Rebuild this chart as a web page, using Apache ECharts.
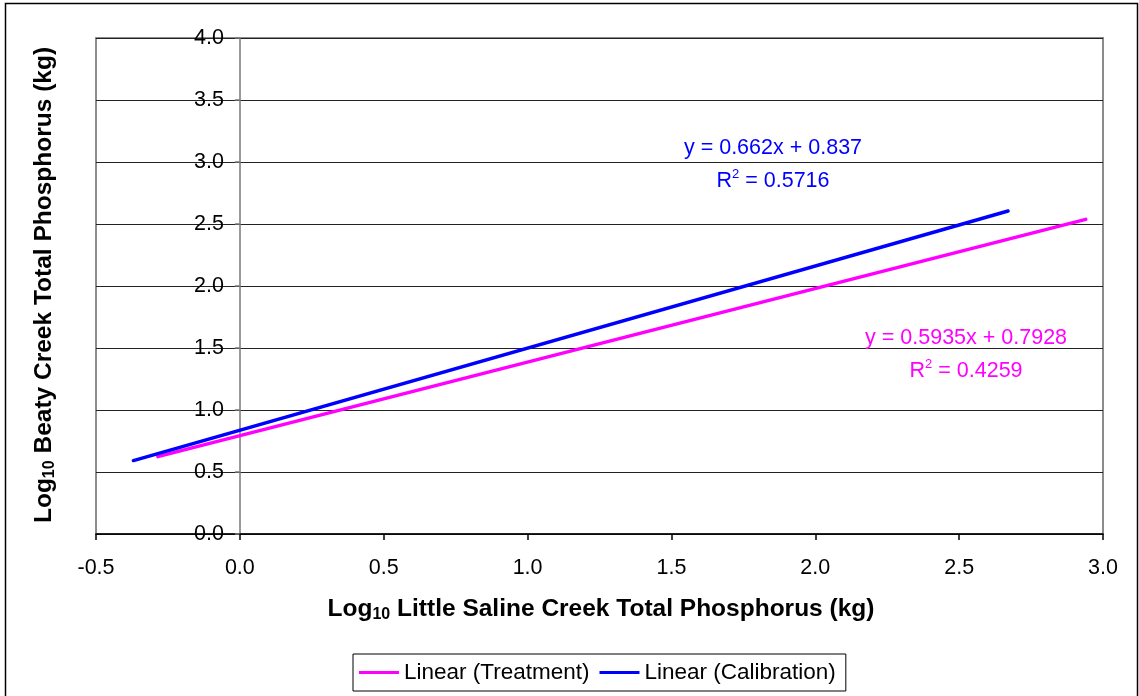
<!DOCTYPE html>
<html>
<head>
<meta charset="utf-8">
<script src="https://cdn.jsdelivr.net/npm/echarts@6/dist/echarts.min.js"></script>
<style>
  html, body { margin: 0; padding: 0; background: #fff; }
  #chart { width: 1139px; height: 696px; }
</style>
</head>
<body>
<div id="chart"></div>
<script>
// Regression lines: log10 Beaty Creek TP vs log10 Little Saline Creek TP
const seriesNames = ['Linear (Treatment)', 'Linear (Calibration)'];
const seriesColors = ['#FF00FF', '#0000FF'];
const slopes = [0.5935, 0.662];
const intercepts = [0.7928, 0.837];
const rSquared = ['0.4259', '0.5716'];
const xStart = [-0.285, -0.37];
const xEnd = [2.94, 2.67];

// Axis ticks
const xTicks = [-0.5, 0.0, 0.5, 1.0, 1.5, 2.0, 2.5, 3.0];
const yTicks = [0.0, 0.5, 1.0, 1.5, 2.0, 2.5, 3.0, 3.5, 4.0];

const FONT = '"Liberation Sans", Arial, sans-serif';
const TXT = 21.5;

function lineData(i) {
  return [xStart[i], xEnd[i]].map(x => [x, slopes[i] * x + intercepts[i]]);
}

const chart = echarts.init(document.getElementById('chart'), null, { renderer: 'canvas' });

const series = seriesNames.map((name, i) => ({
  name: name,
  type: 'line',
  data: lineData(i),
  showSymbol: false,
  symbol: 'none',
  lineStyle: { color: seriesColors[i], width: 3.5, cap: 'round' },
  itemStyle: { color: seriesColors[i] },
  animation: false,
  z: 3 + i
}));

// Equation label anchors in data space (x, y of each text line centre)
const eqAnchors = [
  [[2.524, 1.581], [2.524, 1.315]],
  [[1.853, 3.113], [1.853, 2.847]]
];

const option = {
  animation: false,
  textStyle: { fontFamily: FONT },
  grid: {
    left: 96, top: 38, right: 36, bottom: 162,
    show: true, borderColor: '#8c8c8c', borderWidth: 2, backgroundColor: '#fff'
  },
  xAxis: {
    type: 'value',
    min: xTicks[0], max: xTicks[xTicks.length - 1], interval: 0.5,
    axisLine: { onZero: false, lineStyle: { color: '#000', width: 1.5 } },
    axisTick: { show: true, length: 6, lineStyle: { color: '#000', width: 1.5 } },
    axisLabel: {
      fontSize: TXT, color: '#000', margin: 23, fontFamily: FONT,
      formatter: v => v.toFixed(1)
    },
    splitLine: { show: false }
  },
  yAxis: {
    type: 'value',
    min: yTicks[0], max: yTicks[yTicks.length - 1], interval: 0.5,
    axisLine: { onZero: false, lineStyle: { color: '#7a7a7a', width: 1.5 } },
    axisTick: { show: true, length: 5, lineStyle: { color: '#7a7a7a', width: 1.5 } },
    axisLabel: {
      fontSize: TXT, color: '#000', margin: 16, fontFamily: FONT,
      formatter: v => v.toFixed(1)
    },
    splitLine: { show: true, lineStyle: { color: '#222', width: 1.2 } }
  },
  legend: {
    data: seriesNames,
    left: 353, top: 654,
    orient: 'horizontal',
    icon: 'rect',
    itemWidth: 40, itemHeight: 3,
    itemGap: 10,
    padding: [7, 10, 7, 6],
    borderColor: '#000', borderWidth: 1,
    backgroundColor: '#fff',
    textStyle: { fontSize: 22.5, color: '#000', fontFamily: FONT }
  },
  series: series
};

chart.setOption(option);

// The vertical axis sits on x = 0 of the horizontal axis
const gridLeftPx = chart.convertToPixel({ xAxisIndex: 0 }, xTicks[0]);
const zeroPx = chart.convertToPixel({ xAxisIndex: 0 }, 0);
chart.setOption({ yAxis: { offset: -(zeroPx - gridLeftPx) } });

// Text overlays: outer frame, axis titles, regression equations
const TITLE = 24.5;
const sub = { fontSize: 16, fontWeight: 'bold', fontFamily: FONT, verticalAlign: 'bottom', padding: [7, 0, 0, 0] };
const titleRich = {
  b: { fontSize: TITLE, fontWeight: 'bold', fontFamily: FONT, fill: '#000', lineHeight: 28 },
  s: Object.assign({ fill: '#000', lineHeight: 28 }, sub)
};
const graphics = [
  {
    type: 'rect', silent: true, z: -10,
    shape: { x: 5.5, y: 3.5, width: 1132, height: 720 },
    style: { fill: 'none', stroke: '#000', lineWidth: 1.5 }
  },
  {
    type: 'text', z: 10,
    x: 601, y: 609,
    style: {
      text: '{b|Log}{s|10}{b| Little Saline Creek Total Phosphorus (kg)}',
      align: 'center', verticalAlign: 'middle',
      rich: titleRich
    }
  },
  {
    type: 'text', z: 10,
    x: 44, y: 285, rotation: Math.PI / 2,
    style: {
      text: '{b|Log}{s|10}{b| Beaty Creek Total Phosphorus (kg)}',
      align: 'center', verticalAlign: 'middle',
      rich: titleRich
    }
  }
];

seriesNames.forEach((name, i) => {
  const sign = intercepts[i] >= 0 ? '+' : '-';
  const p1 = chart.convertToPixel({ gridIndex: 0 }, eqAnchors[i][0]);
  const p2 = chart.convertToPixel({ gridIndex: 0 }, eqAnchors[i][1]);
  graphics.push({
    type: 'text', z: 10, x: p1[0], y: p1[1],
    style: {
      text: 'y = ' + slopes[i] + 'x ' + sign + ' ' + Math.abs(intercepts[i]),
      fontSize: TXT, fontFamily: FONT, fill: seriesColors[i],
      align: 'center', verticalAlign: 'middle'
    }
  });
  graphics.push({
    type: 'text', z: 10, x: p2[0], y: p2[1],
    style: {
      text: '{n|R}{p|2}{n| = ' + rSquared[i] + '}',
      align: 'center', verticalAlign: 'middle',
      rich: {
        n: { fontSize: TXT, fontFamily: FONT, fill: seriesColors[i], lineHeight: 26 },
        p: { fontSize: 13, fontFamily: FONT, fill: seriesColors[i], verticalAlign: 'top', padding: [0, 0, 12, 0], lineHeight: 26 }
      }
    }
  });
});

chart.setOption({ graphic: graphics });
</script>
</body>
</html>
